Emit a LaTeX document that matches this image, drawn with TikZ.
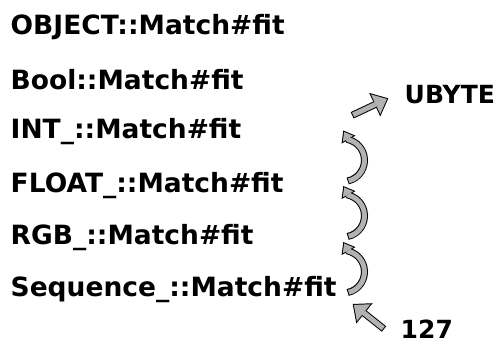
\documentclass[tikz,border=0pt]{standalone}
\usepackage{fontspec}
\setmainfont{DejaVu Sans}
\usetikzlibrary{arrows.meta}

\begin{document}
\begin{tikzpicture}[x=1bp,y=1bp,
    fitlabel/.style={anchor=base west,inner sep=0pt,font=\bfseries\fontsize{26.5bp}{30bp}\selectfont},
    typelabel/.style={anchor=base west,inner sep=0pt,font=\bfseries\fontsize{25bp}{28bp}\selectfont},
    jumpedge/.style={line width=7bp,black,-{Triangle[length=15bp,width=26bp,line width=0pt]}},
    jumpedgefill/.style={line width=5bp,gray!60,shorten <=1bp,shorten >=1.5bp,-{Triangle[length=12.5bp,width=21.7bp,line width=0pt]}},
    stepedge/.style={line width=7bp,black,-{Triangle[length=10.5bp,width=16bp,line width=0pt]}},
    stepedgefill/.style={line width=5bp,gray!60,shorten <=1bp,shorten >=1.65bp,-{Triangle[length=7.85bp,width=12bp,line width=0pt]}},
    step arc/.style={start angle=-78,end angle=75.5,radius=21.2}]
  \useasboundingbox (0,0) rectangle (500,342);
  %%
    % Node: OBJECT .. Sequence_
    \node[fitlabel] (object) at (10.5,308) {OBJECT::Match\#fit};
    \node[fitlabel] (bool) at (10.5,253) {Bool::Match\#fit};
    \node[fitlabel] (int) at (10.5,203.3) {INT\_::Match\#fit};
    \node[fitlabel] (float) at (10.5,149.3) {FLOAT\_::Match\#fit};
    \node[fitlabel] (rgb) at (10.5,98) {RGB\_::Match\#fit};
    \node[fitlabel] (seq) at (10.5,45.3) {Sequence\_::Match\#fit};
    % Node: UBYTE, 127
    \node[typelabel] (ubyte) at (404.5,238.7) {UBYTE};
    \node[typelabel] (n127) at (400.5,3.5) {127};
    % ends of the arrows
    \coordinate (n127_out) at (384,13);
    \coordinate (seq_in) at (352.7,38);
    \coordinate (seq_out) at (347.7,49.5);
    \coordinate (rgb_in) at (343.3,100);
    \coordinate (rgb_out) at (347.7,105.5);
    \coordinate (float_in) at (343.3,156);
    \coordinate (float_out) at (347.7,161);
    \coordinate (int_in) at (343.3,211.5);
    \coordinate (int_out) at (352.2,226.7);
    \coordinate (ubyte_in) at (388.3,243.7);
    % Edge: 127 -> seq
    \draw[jumpedge] (n127_out) -- (seq_in);
    \draw[jumpedgefill] (n127_out) -- (seq_in);
    % Edge: seq -> rgb
    \draw[stepedge] (seq_out) arc[step arc] -- (rgb_in);
    \draw[stepedgefill] (seq_out) arc[step arc] -- (rgb_in);
    % Edge: rgb -> float
    \draw[stepedge] (rgb_out) arc[step arc] -- (float_in);
    \draw[stepedgefill] (rgb_out) arc[step arc] -- (float_in);
    % Edge: float -> int
    \draw[stepedge] (float_out) arc[step arc] -- (int_in);
    \draw[stepedgefill] (float_out) arc[step arc] -- (int_in);
    % Edge: int -> ubyte
    \draw[jumpedge] (int_out) -- (ubyte_in);
    \draw[jumpedgefill] (int_out) -- (ubyte_in);
  %
\end{tikzpicture}
\end{document}
